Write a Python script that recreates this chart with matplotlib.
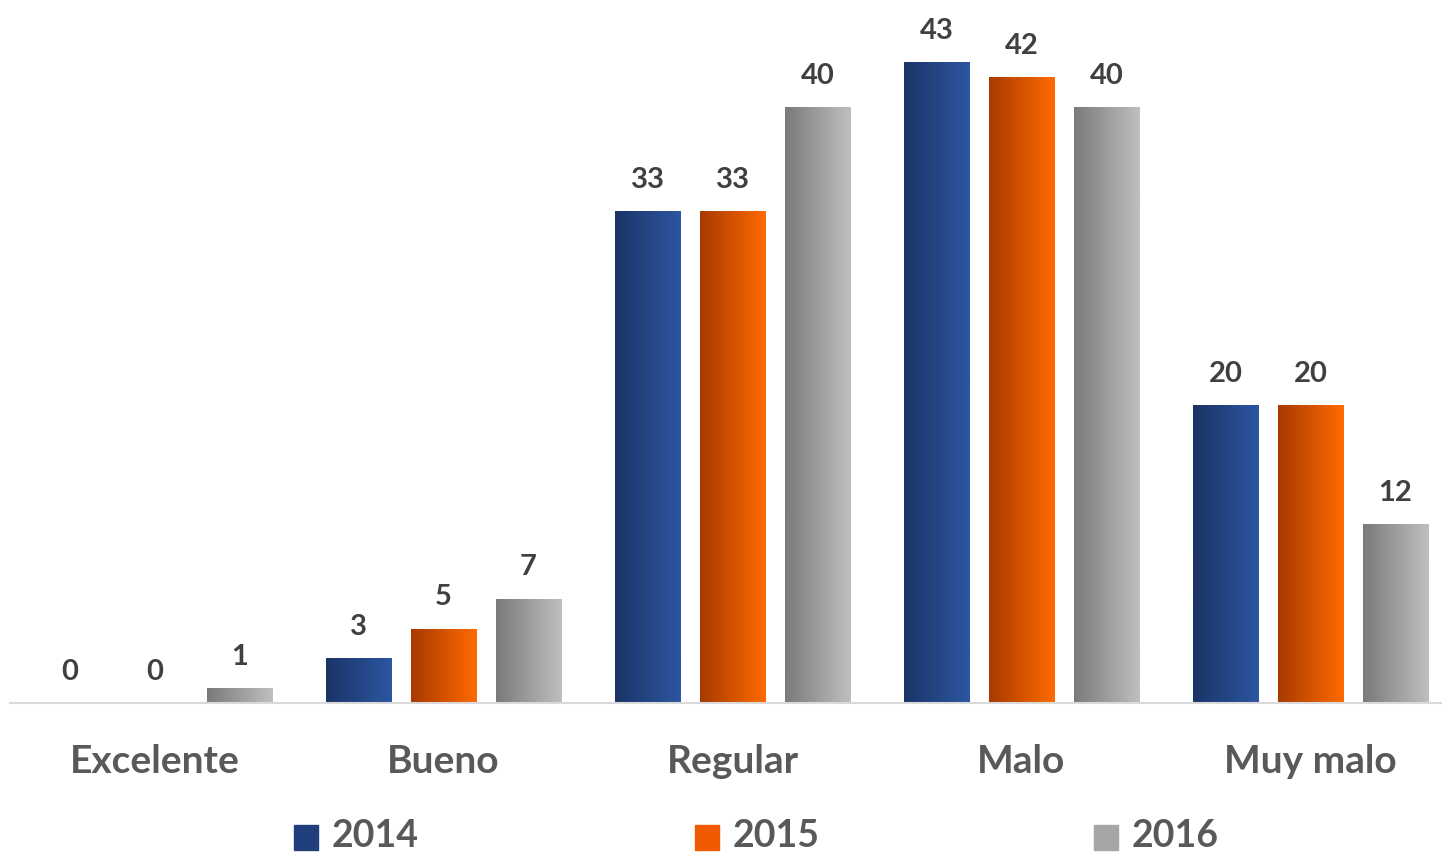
import numpy as np
import matplotlib.pyplot as plt
from matplotlib.colors import LinearSegmentedColormap
from matplotlib.patches import Rectangle

categories = ['Excelente', 'Bueno', 'Regular', 'Malo', 'Muy malo']
years = ['2014', '2015', '2016']
v2014 = [0, 3, 33, 43, 20]
v2015 = [0, 5, 33, 42, 20]
v2016 = [1, 7, 40, 40, 12]

# left -> right gradient of each series
grads = [('#1b3466', '#2c56a2'), ('#a83a00', '#ff6a00'), ('#7a7a7a', '#bfbfbf')]
solid = ['#203f7c', '#f05a00', '#a6a6a6']

plt.rcParams['font.family'] = ['Lato', 'DejaVu Sans']

fig = plt.figure(figsize=(14.42, 8.54), dpi=100)
ax = fig.add_axes([10 / 1442, 150 / 854, 1432 / 1442, 704 / 854])

x = np.arange(len(categories))
w = 0.228
off = 0.294
grad = np.linspace(0, 1, 64).reshape(1, -1)

for i, vals in enumerate([v2014, v2015, v2016]):
    cmap = LinearSegmentedColormap.from_list('g%d' % i, grads[i])
    bars = ax.bar(x + (i - 1) * off, vals, w, color='none', edgecolor='none')
    for b, v in zip(bars, vals):
        if v > 0:
            im = ax.imshow(grad, cmap=cmap, aspect='auto', zorder=2,
                           extent=[b.get_x(), b.get_x() + w, 0, v])
            im.set_clip_path(b)
        ax.annotate(str(v), (b.get_x() + w / 2, v), xytext=(0, 14),
                    textcoords='offset points', ha='center', va='bottom',
                    fontsize=21, fontweight='bold', color='#404040')

ax.set_xlim(-0.5, -0.5 + 1432 / 289)
ax.set_ylim(0, 47.25)
ax.set_xticks(x)
ax.set_xticklabels(categories, fontsize=28, fontweight='bold', color='#595959')
ax.tick_params(axis='x', length=0, pad=29)
ax.set_yticks([])
for s in ['top', 'right', 'left']:
    ax.spines[s].set_visible(False)
ax.spines['bottom'].set_color('#d9d9d9')
ax.spines['bottom'].set_linewidth(1.5)

# legend
leg_x = [294, 695, 1094]
for lx, yr, c in zip(leg_x, years, solid):
    fig.add_artist(Rectangle((lx / 1442, (854 - 851) / 854), 24 / 1442, 25 / 854,
                             color=c, transform=fig.transFigure))
    fig.text((lx + 38) / 1442, (854 - 836) / 854, yr, fontsize=27,
             fontweight='bold', color='#595959', va='center', ha='left')

fig.savefig('out.png', dpi=100)
